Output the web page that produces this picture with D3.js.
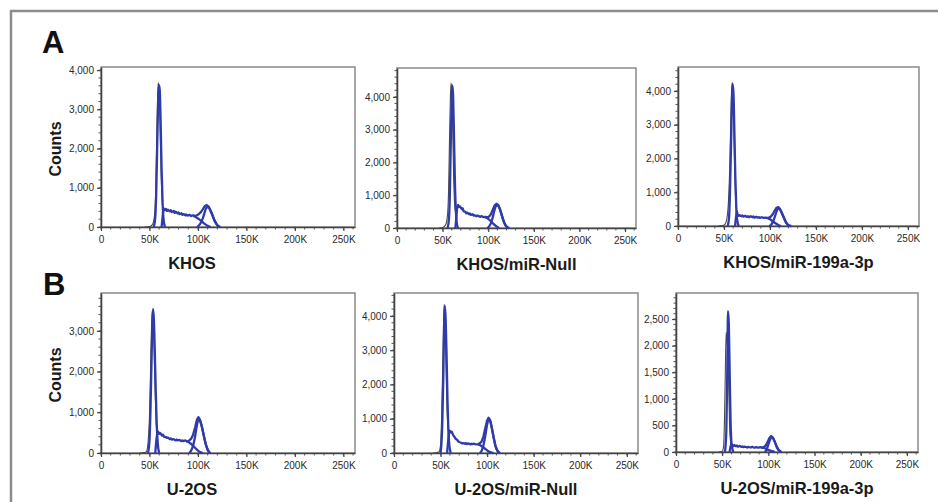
<!DOCTYPE html>
<html>
<head>
<meta charset="utf-8">
<script src="https://cdn.jsdelivr.net/npm/d3@7"></script>
<style>
body { margin: 0; background: #fff; }
svg { display: block; font-family: "Liberation Sans", Arial, sans-serif; }
</style>
</head>
<body>
<svg id="fig" width="938" height="502"></svg>
<script>
// x values in K (DNA content), y values in counts

let titles = ["KHOS", "KHOS/miR-Null", "KHOS/miR-199a-3p", "U-2OS", "U-2OS/miR-Null", "U-2OS/miR-199a-3p"];
let xTicks = [0, 50, 100, 150, 200, 250];
let yTicksA = [0, 1000, 2000, 3000, 4000];
let yTicksB1 = [0, 1000, 2000, 3000];
let yTicksB3 = [0, 500, 1000, 1500, 2000, 2500];
let yMaxes = [4080, 4880, 4710, 3930, 4670, 2990];

// KHOS
let khosRaw = [[45,0],[50,10],[53,60],[55,250],[56.5,1000],[57.5,2300],[58.5,3450],[59.2,3680],[60,3450],[61,2500],[62,1400],[63,700],[64,450],[65.5,430]];
let khosG1 = [[54.5,0],[56,250],[57,900],[58,2100],[59,3250],[59.8,3620],[60.6,3500],[61.5,2700],[62.5,1500],[63.5,650],[64.5,200],[66,0]];
let khosTotal = [[62.5,0],[63.5,250],[64.5,480],[65.5,430],[67,460],[68,410],[69,440],[71,400],[72,430],[73,380],[75,410],[76,360],[77,390],[79,350],[80,370],[81,330],[83,350],[84,310],[85,330],[87,300],[88,320],[89,290],[91,310],[93,280],[95,300],[97,280],[99,300],[101,330],[103,380],[105,450],[107,530],[109,560],[111,520],[113,420],[115,300],[117,170],[119,80],[121,20],[123,0]];
let khosS = [[95,280],[98,250],[101,200],[104,140],[107,80],[110,30],[113,0]];
let khosG2 = [[99,0],[101,40],[103,110],[105,220],[107,380],[109,500],[111,500],[113,410],[115,300],[117,170],[119,80],[121,20],[123,0]];

// KHOS/miR-Null
let khosNullRaw = [[46,0],[50,15],[53,80],[55,300],[56.5,1100],[57.5,2600],[58.5,3950],[59.2,4420],[60,4200],[61,3100],[62,1700],[63,800],[64,500],[65,520]];
let khosNullG1 = [[55.5,0],[57,300],[58,1100],[59,2700],[60,4000],[60.7,4350],[61.5,4050],[62.5,2800],[63.5,1400],[64.5,550],[65.5,150],[67,0]];
let khosNullTotal = [[64,0],[65,300],[66,650],[67,700],[68,640],[69,660],[71,580],[72,600],[73,510],[75,490],[76,450],[77,470],[79,420],[80,440],[81,400],[83,420],[84,380],[85,390],[87,360],[88,380],[89,370],[91,340],[93,360],[95,330],[97,340],[99,320],[101,350],[103,420],[105,560],[107,690],[109,740],[111,700],[113,560],[115,380],[117,200],[119,80],[121,20],[123,0]];
let khosNullS = [[97,330],[100,280],[103,200],[106,120],[109,50],[112,0]];
let khosNullG2 = [[99,0],[101,50],[103,150],[105,330],[107,560],[109,690],[111,680],[113,560],[115,380],[117,200],[119,80],[121,20],[123,0]];

// KHOS/miR-199a-3p
let khos199Raw = [[44,0],[48,10],[51,50],[53,200],[55,800],[56.5,2000],[57.5,3300],[58.5,4150],[59.2,4250],[60,3700],[61,2500],[62,1300],[63,600],[64,350]];
let khos199G1 = [[54,0],[55.5,250],[56.5,1000],[57.5,2200],[58.5,3500],[59.4,4200],[60.3,3950],[61.3,2800],[62.3,1500],[63.3,600],[64.3,180],[66,0]];
let khos199Total = [[62,0],[63,250],[64,430],[65,320],[66,300],[67,320],[69,290],[70,310],[71,280],[73,300],[75,270],[76,290],[77,260],[79,290],[81,260],[82,280],[83,250],[85,270],[87,250],[88,260],[89,240],[91,260],[93,240],[95,250],[97,240],[99,250],[101,280],[103,350],[105,450],[107,540],[109,560],[111,500],[113,380],[115,250],[117,130],[119,50],[121,10],[123,0]];
let khos199S = [[97,240],[100,200],[103,140],[106,80],[109,30],[112,0]];
let khos199G2 = [[99,0],[101,30],[103,110],[105,250],[107,420],[109,520],[111,480],[113,380],[115,250],[117,130],[119,50],[121,10],[123,0]];

// U-2OS
let u2osRaw = [[40,0],[45,10],[47,40],[48.5,250],[50,900],[51,1900],[52,3000],[52.8,3500],[53.5,3400],[54.5,2800],[55.5,1800],[56.5,1000],[57.5,550],[59,500]];
let u2osG1 = [[48.5,0],[50,300],[51,1000],[52,2100],[53,3200],[53.7,3540],[54.5,3300],[55.5,2500],[56.5,1500],[57.5,700],[58.5,250],[60,0]];
let u2osTotal = [[56,0],[57,300],[58,480],[59,520],[60,470],[61,490],[63,430],[64,450],[65,400],[67,390],[68,370],[69,380],[71,340],[72,360],[73,330],[75,340],[77,310],[78,330],[79,310],[81,320],[83,290],[84,310],[85,290],[87,310],[89,280],[91,310],[93,350],[95,450],[97,620],[99,820],[100.5,880],[102,820],[104,650],[106,430],[108,220],[110,80],[112,10],[113,0]];
let u2osS = [[88,290],[91,260],[94,200],[97,130],[100,60],[103,15],[105,0]];
let u2osG2 = [[91,0],[93,60],[95,180],[97,400],[99,690],[100.5,820],[102,800],[104,650],[106,430],[108,220],[110,80],[112,10],[113,0]];

// U-2OS/miR-Null
let u2osNullRaw = [[42,0],[46,10],[48.5,40],[50,250],[51,900],[52,2100],[53,3500],[53.8,4330],[54.5,4100],[55.5,3000],[56.5,1700],[57.5,900],[58.5,600],[60,640]];
let u2osNullG1 = [[50,0],[51,300],[52,1000],[53,2300],[53.8,3700],[54.5,4300],[55.5,3900],[56.5,2800],[57.5,1500],[58.5,600],[59.5,200],[61,0]];
let u2osNullTotal = [[57,0],[58,300],[59,580],[60,650],[61,600],[62,620],[64,500],[65,470],[66,420],[68,380],[69,340],[70,320],[72,300],[73,280],[74,290],[76,270],[77,290],[78,260],[80,280],[82,250],[83,270],[84,260],[86,270],[88,250],[90,260],[92,280],[94,330],[96,480],[98,720],[100,950],[101.5,1030],[103,970],[105,740],[107,450],[109,200],[111,70],[113,10],[114,0]];
let u2osNullS = [[90,250],[93,220],[96,160],[99,100],[102,40],[105,10],[107,0]];
let u2osNullG2 = [[92,0],[94,60],[96,220],[98,500],[100,830],[101.5,980],[103,960],[105,740],[107,450],[109,200],[111,70],[113,10],[114,0]];

// U-2OS/miR-199a-3p
let u2os199Raw = [[46,0],[50,15],[51.5,100],[52.5,600],[53.5,1600],[54.3,2250],[55,2100],[56,1900],[57,1300],[58,500],[59,200],[60,120]];
let u2os199G1 = [[53,0],[54.5,400],[55.5,1500],[56.3,2650],[57.2,2400],[58.2,1400],[59.2,500],[60.2,150],[62,0]];
let u2os199Total = [[58,0],[59,100],[60,150],[61,130],[62,110],[63,130],[65,110],[66,120],[67,100],[69,115],[71,95],[72,105],[73,90],[75,100],[77,85],[78,95],[79,90],[81,85],[83,95],[85,80],[87,90],[89,80],[91,90],[93,80],[95,90],[97,120],[99,180],[101,260],[103,300],[105,270],[107,190],[109,100],[111,40],[113,10],[114,0]];
let u2os199S = [[92,85],[96,70],[100,40],[104,15],[107,0]];
let u2os199G2 = [[96,0],[98,40],[100,140],[102,240],[103,280],[105,260],[107,190],[109,100],[111,40],[113,10],[114,0]];

// panel boxes (left, top, right, bottom)
let boxes = [
    [101, 67, 355, 227],
    [397, 68, 636, 228],
    [678, 67, 919, 226],
    [101, 293, 355, 453],
    [394, 293, 638, 453],
    [676, 293, 918, 452]
];

let panels = [
    {raw: khosRaw, g1: khosG1, total: khosTotal, s: khosS, g2: khosG2, yTicks: yTicksA, minor: 200},
    {raw: khosNullRaw, g1: khosNullG1, total: khosNullTotal, s: khosNullS, g2: khosNullG2, yTicks: yTicksA, minor: 200},
    {raw: khos199Raw, g1: khos199G1, total: khos199Total, s: khos199S, g2: khos199G2, yTicks: yTicksA, minor: 200},
    {raw: u2osRaw, g1: u2osG1, total: u2osTotal, s: u2osS, g2: u2osG2, yTicks: yTicksB1, minor: 200},
    {raw: u2osNullRaw, g1: u2osNullG1, total: u2osNullTotal, s: u2osNullS, g2: u2osNullG2, yTicks: yTicksA, minor: 200},
    {raw: u2os199Raw, g1: u2os199G1, total: u2os199Total, s: u2os199S, g2: u2os199G2, yTicks: yTicksB3, minor: 100}
];

let svg = d3.select("#fig");
let blue = "#2f3ba8";

// outer frame (top and left edges only show)
svg.append("line").attr("x1", 10).attr("x2", 938).attr("y1", 11).attr("y2", 11)
    .attr("stroke", "#8c8c8c").attr("stroke-width", 2.5);
svg.append("line").attr("x1", 11).attr("x2", 11).attr("y1", 10).attr("y2", 502)
    .attr("stroke", "#8c8c8c").attr("stroke-width", 2.5);

svg.append("text").attr("x", 42).attr("y", 53).text("A")
    .style("font-weight", "bold").style("font-size", "31px").attr("fill", "#111");
svg.append("text").attr("x", 43).attr("y", 295).text("B")
    .style("font-weight", "bold").style("font-size", "31px").attr("fill", "#111");

panels.forEach(function (p, i) {
    let b = boxes[i];
    let x = d3.scaleLinear().domain([0, 262]).range([b[0], b[2]]);
    let y = d3.scaleLinear().domain([0, yMaxes[i]]).range([b[3], b[1]]);
    let g = svg.append("g");

    // box
    g.append("rect").attr("x", b[0]).attr("y", b[1])
        .attr("width", b[2] - b[0]).attr("height", b[3] - b[1])
        .attr("fill", "none").attr("stroke", "#8a8a8a").attr("stroke-width", 1.5);

    // minor ticks
    let xMinor = d3.range(0, 261, 10);
    g.selectAll(".xm").data(xMinor).enter().append("line")
        .attr("x1", d => x(d)).attr("x2", d => x(d))
        .attr("y1", b[3]).attr("y2", b[3] + 2.5)
        .attr("stroke", "#555").attr("stroke-width", 1);
    let yMinor = d3.range(0, yMaxes[i], p.minor);
    g.selectAll(".ym").data(yMinor).enter().append("line")
        .attr("x1", b[0] - 2.5).attr("x2", b[0])
        .attr("y1", d => y(d)).attr("y2", d => y(d))
        .attr("stroke", "#555").attr("stroke-width", 1);

    let xAxis = g.append("g").attr("transform", "translate(0," + b[3] + ")")
        .call(d3.axisBottom(x).tickValues(xTicks).tickSize(4).tickSizeOuter(0)
            .tickFormat(d => d === 0 ? "0" : d + "K"));
    let yAxis = g.append("g").attr("transform", "translate(" + b[0] + ",0)")
        .call(d3.axisLeft(y).tickValues(p.yTicks).tickSize(4).tickSizeOuter(0)
            .tickFormat(d3.format(",")));
    [xAxis, yAxis].forEach(function (a) {
        a.select(".domain").attr("stroke", "#444").attr("stroke-width", 1.6);
        a.selectAll(".tick line").attr("stroke", "#444").attr("stroke-width", 1.2);
        a.selectAll("text").attr("fill", "#2a2a2a")
            .style("font-size", "10px").style("font-family", "Liberation Sans, Arial, sans-serif");
    });
    xAxis.selectAll("text").attr("dy", "0.9em");

    let smooth = d3.line().x(d => x(d[0])).y(d => y(d[1])).curve(d3.curveMonotoneX);
    let jagged = d3.line().x(d => x(d[0])).y(d => y(d[1]));

    g.append("path").datum(p.raw).attr("d", smooth)
        .attr("fill", "none").attr("stroke", "#4a4a4a").attr("stroke-width", 1.1);
    [p.s, p.g2, p.g1].forEach(function (c) {
        g.append("path").datum(c).attr("d", smooth)
            .attr("fill", "none").attr("stroke", blue).attr("stroke-width", 2.3)
            .attr("stroke-linejoin", "round");
    });
    g.append("path").datum(p.total).attr("d", jagged)
        .attr("fill", "none").attr("stroke", blue).attr("stroke-width", 2.3)
        .attr("stroke-linejoin", "round");

    // panel title under the x axis
    g.append("text").attr("x", (b[0] + b[2]) / 2 + (i % 3 === 0 ? -36 : 0))
        .attr("y", b[3] + 42).attr("text-anchor", "middle").text(titles[i])
        .style("font-weight", "bold").style("font-size", "16.5px").attr("fill", "#1a1a1a");

    if (i % 3 === 0) {
        svg.append("text")
            .attr("transform", "translate(61," + ((b[1] + b[3]) / 2 + 2) + ") rotate(-90)")
            .attr("text-anchor", "middle").text("Counts")
            .style("font-weight", "bold").style("font-size", "16px").attr("fill", "#1a1a1a");
    }
});
</script>
</body>
</html>
